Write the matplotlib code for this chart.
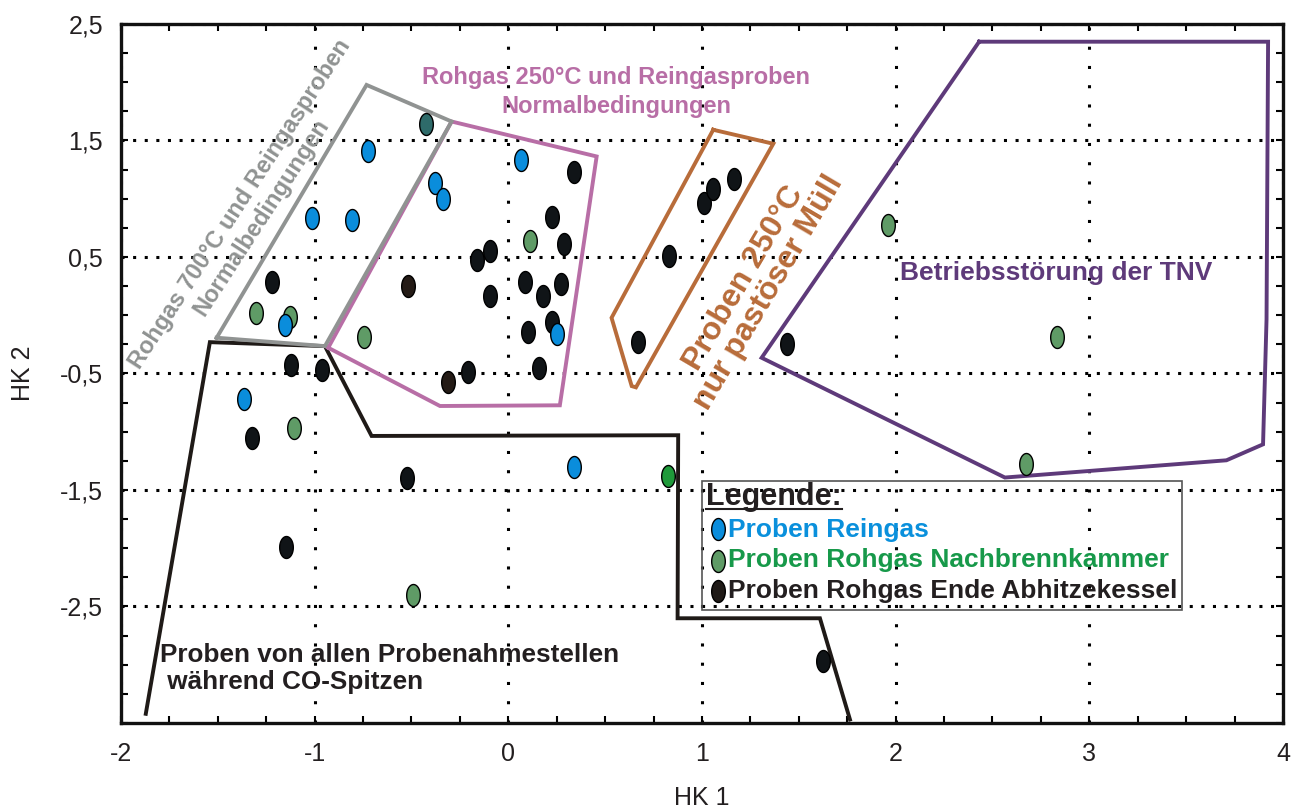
import numpy as np
import matplotlib.pyplot as plt
from matplotlib.path import Path
from matplotlib.patches import Rectangle
from matplotlib.ticker import MultipleLocator, FixedLocator

plt.rcParams['font.family'] = ['Liberation Sans', 'DejaVu Sans']

# Proben Reingas (HK 1, HK 2)
rein_x = [-0.723, -0.379, -0.339, -1.012, -0.806, -1.152, -1.363, 0.065, 0.249, 0.340]
rein_y = [1.414, 1.135, 1.000, 0.835, 0.820, -0.085, -0.722, 1.329, -0.165, -1.299]

# Proben Rohgas Nachbrennkammer
nbk_x = [-1.303, -1.128, -0.744, -1.105, -0.494, 0.110, 1.961, 2.832, 2.671]
nbk_y = [0.021, -0.013, -0.185, -0.970, -2.401, 0.638, 0.778, -0.188, -1.276]
nbk_hell_x = [0.827]
nbk_hell_y = [-1.379]

# Proben Rohgas Ende Abhitzekessel
akes_x = [-1.220, -1.122, -0.961, -1.325, -1.150, -0.525, -0.210, -0.164, -0.095,
          -0.095, 0.088, 0.103, 0.156, 0.180, 0.225, 0.225, 0.272, 0.285, 0.339,
          0.669, 0.831, 1.012, 1.058, 1.166, 1.440, 1.626]
akes_y = [0.283, -0.430, -0.473, -1.050, -1.993, -1.399, -0.490, 0.472, 0.555,
          0.167, 0.287, -0.142, -0.454, 0.163, 0.840, -0.054, 0.266, 0.615, 1.229,
          -0.231, 0.512, 0.963, 1.086, 1.169, -0.251, -2.964]
braun_x = [-0.517, -0.310]
braun_y = [0.249, -0.574]
teal_x = [-0.425]
teal_y = [1.641]

# Bereiche (Umrandungen)
grau_x = [-1.506, -0.732, -0.293, -0.947]
grau_y = [-0.193, 1.977, 1.663, -0.265]
rosa_x = [-0.930, -0.293, 0.456, 0.266, -0.353]
rosa_y = [-0.279, 1.663, 1.363, -0.773, -0.779]
orange_x = [1.058, 1.368, 0.659, 0.637, 0.533]
orange_y = [1.592, 1.472, -0.619, -0.608, -0.022]
lila_x = [2.431, 3.923, 3.915, 3.897, 3.708, 2.564, 1.308]
lila_y = [2.348, 2.348, -0.036, -1.108, -1.245, -1.393, -0.365]
co_x = [-1.872, -1.541, -0.947, -0.706, 0.877, 0.874, 1.609, 1.764]
co_y = [-3.421, -0.231, -0.265, -1.036, -1.030, -2.601, -2.601, -3.470]

x_ticks = [-2, -1, 0, 1, 2, 3, 4]
y_ticks = [-2.5, -1.5, -0.5, 0.5, 1.5, 2.5]

BLAU = '#0a8ddc'
GRUEN = '#5f9b66'
SCHWARZ = '#101417'
TXT = '#231f20'

t = np.linspace(0, 2 * np.pi, 60)
ellipse = Path(np.column_stack([0.62 * np.cos(t), np.sin(t)]), closed=True)

fig = plt.figure(figsize=(12.98, 8.11), dpi=100)
ax = fig.add_axes([0.09322, 0.10851, 0.89522, 0.86190])

ax.set_xlim(-2, 4)
ax.set_ylim(-3.5, 2.5)

def poly(xs, ys, color, lw=2.8, closed=True):
    if closed:
        xs = list(xs) + [xs[0]]
        ys = list(ys) + [ys[0]]
    ax.plot(xs, ys, color=color, lw=lw, solid_joinstyle='miter', zorder=2)

poly(co_x, co_y, '#1f1a17', closed=False)
poly(rosa_x, rosa_y, '#b86ea6')
poly(grau_x, grau_y, '#909392')
poly(orange_x, orange_y, '#b86c3a')
poly(lila_x, lila_y, '#5e3a7a')

ms = 250
kw = dict(marker=ellipse, s=ms, edgecolors='k', linewidths=1.0, zorder=3)
ax.scatter(akes_x, akes_y, c=SCHWARZ, **kw)
ax.scatter(braun_x, braun_y, c='#241b16', **kw)
ax.scatter(teal_x, teal_y, c='#2e6b6a', **kw)
ax.scatter(nbk_x, nbk_y, c=GRUEN, **kw)
ax.scatter(nbk_hell_x, nbk_hell_y, c='#1f9a3a', **kw)
ax.scatter(rein_x, rein_y, c=BLAU, **kw)

# Beschriftungen der Bereiche
ax.text(-1.33, 0.895, 'Rohgas 700°C und Reingasproben\nNormalbedingungen',
        rotation=57, rotation_mode='anchor', ha='center', va='center', ma='center',
        fontsize=17, fontweight='bold', color='#909392', linespacing=1.1)
ax.text(0.556, 1.915, 'Rohgas 250°C und Reingasproben\nNormalbedingungen',
        ha='center', va='center', ma='center', fontsize=17, fontweight='bold',
        color='#b86ea6', linespacing=1.3)
ax.text(1.282, 0.255, 'Proben 250°C\nnur pastöser Müll', rotation=59.5,
        rotation_mode='anchor', ha='center', va='center', ma='center',
        fontsize=23, fontweight='bold', color='#b86c3a', linespacing=0.95)
ax.text(2.827, 0.366, 'Betriebsstörung der TNV', ha='center', va='center',
        fontsize=19, fontweight='bold', color='#5e3a7a')
ax.text(-1.80, -3.03, 'Proben von allen Probenahmestellen\n während CO-Spitzen',
        ha='left', va='center', fontsize=18.8, fontweight='bold', color=TXT,
        linespacing=1.15)

# Legende
ax.add_patch(Rectangle((0.5, 0.1617), 0.413, 0.1845, transform=ax.transAxes,
                       fill=False, edgecolor='#555555', lw=1.2, zorder=4))
leg_t = ax.text(0.5034, 0.3119, 'Legende:', transform=ax.transAxes, va='baseline',
                ha='left', fontsize=22, fontweight='bold', color=TXT, zorder=5)
eintraege = [('Proben Reingas', BLAU, '#0a90dc', 0.2771, 0.2665),
             ('Proben Rohgas Nachbrennkammer', GRUEN, '#17994a', 0.2322, 0.2227),
             ('Proben Rohgas Ende Abhitzekessel', '#1f1a17', TXT, 0.1893, 0.1784)]
for label, mc, tc, ym, yt in eintraege:
    ax.scatter([0.5135], [ym], transform=ax.transAxes, c=mc, marker=ellipse, s=ms,
               edgecolors='k', linewidths=1.0, zorder=5, clip_on=False)
    ax.text(0.5226, yt, label, transform=ax.transAxes, va='baseline', ha='left',
            fontsize=19, fontweight='bold', color=tc, zorder=5)

fig.canvas.draw()
bb = leg_t.get_window_extent().transformed(ax.transAxes.inverted())
ax.plot([bb.x0, bb.x1], [0.306, 0.306], transform=ax.transAxes, color=TXT, lw=1.5,
        zorder=5)

# Achsen
ax.xaxis.set_major_locator(FixedLocator(x_ticks))
ax.yaxis.set_major_locator(FixedLocator(y_ticks))
ax.xaxis.set_minor_locator(MultipleLocator(0.25))
ax.yaxis.set_minor_locator(MultipleLocator(0.25))
ax.set_xticklabels([str(v) for v in x_ticks])
ax.set_yticklabels([f'{v:.1f}'.replace('.', ',') for v in y_ticks])
ax.tick_params(which='both', direction='in', top=True, right=True, length=5,
               width=1.5, color='k')
ax.tick_params(axis='both', labelsize=18, labelcolor=TXT)
ax.tick_params(axis='x', pad=14)
ax.tick_params(axis='y', pad=13)

ax.xaxis.grid(True, which='major', color='k', lw=2.2, linestyle=(0, (1, 5.3)))
ax.yaxis.grid(True, which='major', color='k', lw=2.2, linestyle=(0, (1, 2.8)))
ax.set_axisbelow(True)

for s in ax.spines.values():
    s.set_linewidth(2.4)
    s.set_color('#111111')
    s.set_zorder(6)

ax.set_xlabel('HK 1', fontsize=18, color=TXT, labelpad=14)
ax.set_ylabel('HK 2', fontsize=18, color=TXT, labelpad=18)

fig.savefig('out.png', dpi=100)
